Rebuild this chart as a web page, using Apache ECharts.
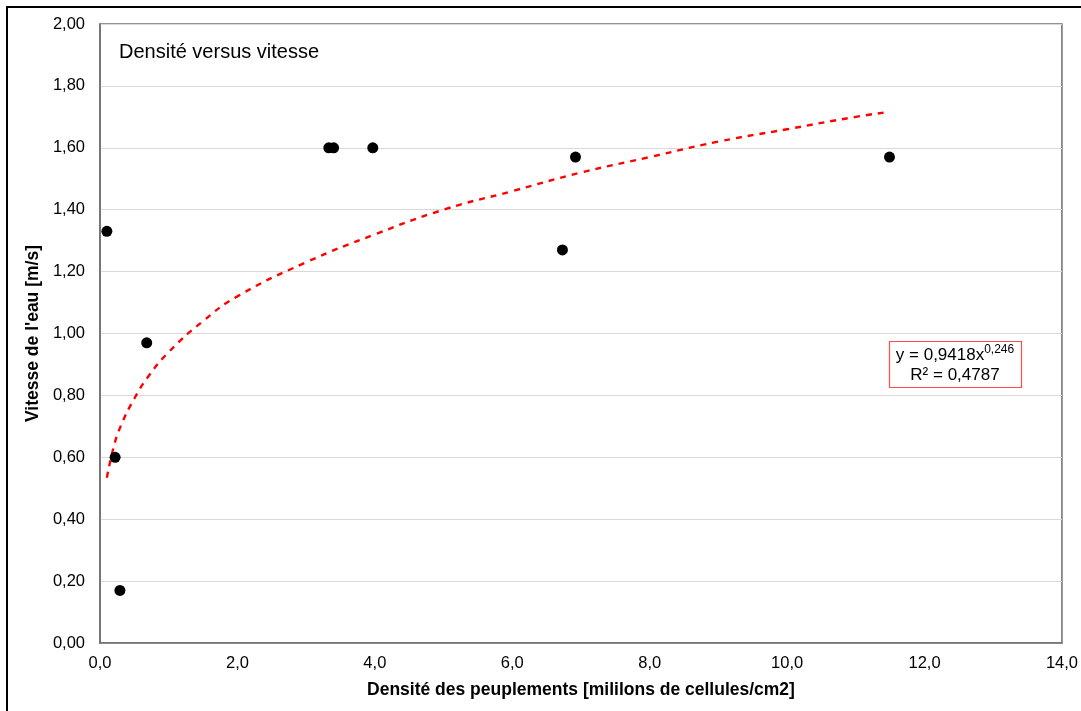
<!DOCTYPE html>
<html><head><meta charset="utf-8">
<script src="https://cdn.jsdelivr.net/npm/echarts@6/dist/echarts.min.js"></script>
<style>html,body{margin:0;padding:0;background:#fff}#c{width:1081px;height:711px}</style>
</head><body><div id="c"></div>
<script>
var densite = [0.10, 0.22, 0.29, 0.68, 3.33, 3.40, 3.97, 6.73, 6.92, 11.49];
var vitesse = [1.33, 0.60, 0.17, 0.97, 1.60, 1.60, 1.60, 1.27, 1.57, 1.57];
var trendX = [0.10, 0.20, 0.30, 0.50, 0.70, 1.0, 1.5, 2.0, 3.0, 4.0, 5.0, 6.0, 7.0, 8.0, 9.0, 10.0, 11.0, 11.49];
var trendY = [0.534, 0.634, 0.70, 0.79, 0.86, 0.94, 1.04, 1.12, 1.23, 1.32, 1.40, 1.46, 1.52, 1.57, 1.62, 1.66, 1.70, 1.716];
var xTicks = ['0,0','2,0','4,0','6,0','8,0','10,0','12,0','14,0'];
var yTicks = ['0,00','0,20','0,40','0,60','0,80','1,00','1,20','1,40','1,60','1,80','2,00'];

var pts = densite.map(function(x,i){return [x, vitesse[i]];});
var trend = trendX.map(function(x,i){return [x, trendY[i]];});
var font = 'Liberation Sans, Arial, sans-serif';
var chart = echarts.init(document.getElementById('c'), null, {renderer:'canvas'});
chart.setOption({
  animation:false,
  backgroundColor:'#fff',
  grid:{left:100, right:18, top:24, bottom:68, show:true, borderColor:'#6e6e6e', borderWidth:1.5},
  xAxis:{type:'value', min:0, max:14, interval:2,
    name:'Densité des peuplements [mililons de cellules/cm2]', nameLocation:'middle', nameGap:38,
    nameTextStyle:{fontFamily:font, fontSize:17.5, fontWeight:'bold', color:'#000'},
    axisLine:{show:true, lineStyle:{color:'#6e6e6e', width:1.5}}, axisTick:{show:false},
    axisLabel:{fontFamily:font, fontSize:16.5, color:'#000', margin:12, formatter:function(v){return xTicks[Math.round(v/2)];}},
    splitLine:{show:false}},
  yAxis:{type:'value', min:0, max:2, interval:0.2,
    name:"Vitesse de l'eau [m/s]", nameLocation:'middle', nameGap:52, nameRotate:90,
    nameTextStyle:{fontFamily:font, fontSize:17.5, fontWeight:'bold', color:'#000'},
    axisLine:{show:true, lineStyle:{color:'#6e6e6e', width:1.5}}, axisTick:{show:false},
    axisLabel:{fontFamily:font, fontSize:16.5, color:'#000', margin:15, formatter:function(v){return yTicks[Math.round(v*5)];}},
    splitLine:{show:true, lineStyle:{color:'#d9d9d9', width:1}}},
  series:[
    {type:'line', data:trend, smooth:true, symbol:'none', z:3,
     lineStyle:{color:'#ff0000', width:2.4, type:[6,6]}},
    {type:'scatter', data:pts, symbol:'circle', symbolSize:11, z:4,
     itemStyle:{color:'#000', opacity:1}}
  ],
  graphic:[
    {type:'polyline', shape:{points:[[7,711],[7,7],[1081,7]]}, style:{stroke:'#000', lineWidth:2, fill:null}},
    {type:'text', left:119, top:42, style:{text:'Densité versus vitesse', font:'20px '+font, fill:'#000'}},
    {type:'rect', z:10, shape:{x:889.5, y:341.5, width:132, height:46}, style:{fill:'#fff', stroke:'#ff4d4d', lineWidth:1.2}},
    {type:'text', z:11, x:955, y:344, style:{
      text:'{a|y = 0,9418x}{s|0,246}\n{a|R² = 0,4787}', align:'center', verticalAlign:'top',
      rich:{a:{font:'17px '+font, fill:'#000', lineHeight:20, verticalAlign:'bottom'},
            s:{font:'12px '+font, fill:'#000', lineHeight:20, verticalAlign:'top', padding:[0,0,8,0]}}}}
  ]
});
</script></body></html>
